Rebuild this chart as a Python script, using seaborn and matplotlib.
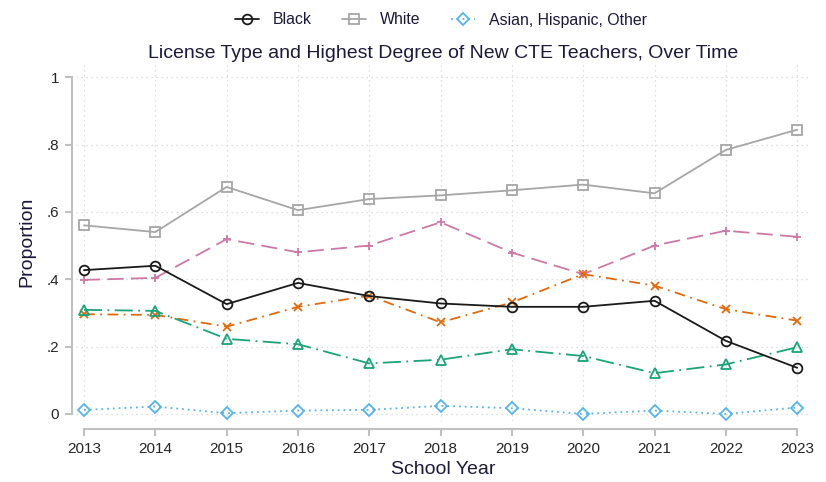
import numpy as np
import pandas as pd
import matplotlib
matplotlib.use("Agg")
import matplotlib.pyplot as plt
import seaborn as sns

# === Data ===
years = list(range(2013, 2024))

black = [0.427, 0.440, 0.326, 0.389, 0.350, 0.328, 0.318, 0.318, 0.336, 0.217, 0.137]
white = [0.560, 0.540, 0.674, 0.605, 0.638, 0.649, 0.664, 0.681, 0.655, 0.784, 0.844]
other = [0.012, 0.022, 0.002, 0.010, 0.012, 0.024, 0.017, 0.000, 0.010, 0.000, 0.019]
pink = [0.398, 0.404, 0.519, 0.480, 0.500, 0.569, 0.479, 0.415, 0.500, 0.544, 0.526]
orange = [0.296, 0.294, 0.259, 0.318, 0.351, 0.272, 0.331, 0.415, 0.381, 0.311, 0.277]
green = [0.309, 0.306, 0.223, 0.207, 0.150, 0.161, 0.192, 0.172, 0.121, 0.147, 0.198]

ytick_vals = [0, 0.2, 0.4, 0.6, 0.8, 1]
ytick_labels = ["0", ".2", ".4", ".6", ".8", "1"]

TEXT = "#1a1a3a"

sns.set_theme(style="white")
plt.rcParams["font.family"] = ["Liberation Sans", "DejaVu Sans"]

fig = plt.figure(figsize=(8.26, 4.82), dpi=100)
W, H = 826, 482
# axes box in pixels: left 76, right 810, top 62, bottom 421
ax = fig.add_axes([76 / W, 1 - 421 / H, (810 - 76) / W, (421 - 62) / H])

series = [
    # values, color, marker, linestyle, label
    (pink, "#CC79A7", "+", (0, (9, 4)), None),
    (orange, "#E06A10", "x", (0, (6, 3, 1, 3)), None),
    (green, "#1BA37A", "^", (0, (10, 3, 1, 3)), None),
    (other, "#56B4E9", "D", (0, (1, 2.2)), "Asian, Hispanic, Other"),
    (white, "#A6A6A6", "s", "-", "White"),
    (black, "#1a1a1a", "o", "-", "Black"),
]

for vals, col, mk, ls, lab in series:
    df = pd.DataFrame({"year": years, "value": vals})
    ms = 6 if mk == "D" else 7
    if mk in ("+", "x"):
        ms = 6
    sns.lineplot(data=df, x="year", y="value", ax=ax, color=col, marker=mk,
                 linestyle=ls, linewidth=1.3, markersize=ms,
                 markerfacecolor="none", markeredgecolor=col,
                 markeredgewidth=1.3, label=lab, legend=False)

ax.set_xlim(2012.888, 2023.18)
ax.set_ylim(-0.021, 1.045)

ax.set_xticks(years)
ax.set_xticklabels([str(y) for y in years], fontsize=11, color=TEXT)
ax.set_yticks(ytick_vals)
ax.set_yticklabels(ytick_labels, fontsize=11, color=TEXT)

ax.grid(True, linestyle=(0, (1, 3)), color="#d4d4d4", linewidth=0.9)
ax.set_axisbelow(True)

for s in ["top", "right"]:
    ax.spines[s].set_visible(False)
ax.spines["left"].set_position(("outward", 3))
ax.spines["bottom"].set_position(("outward", 6))
ax.spines["left"].set_bounds(0, 1)
ax.spines["bottom"].set_bounds(2013, 2023)
for s in ["left", "bottom"]:
    ax.spines[s].set_color("#c0c0c0")
    ax.spines[s].set_linewidth(1.5)
ax.tick_params(axis="both", which="major", direction="out", length=5,
               width=1.5, color="#c0c0c0", pad=4, left=True, bottom=True)

ax.set_xlabel("School Year", fontsize=14, color=TEXT, labelpad=4)
ax.set_ylabel("Proportion", fontsize=14, color=TEXT, labelpad=8)
ax.set_title("License Type and Highest Degree of New CTE Teachers, Over Time",
             fontsize=14, color=TEXT, pad=3)

handles, labels = ax.get_legend_handles_labels()
order = ["Black", "White", "Asian, Hispanic, Other"]
hmap = dict(zip(labels, handles))
fig.legend([hmap[k] for k in order], order, loc="center", ncol=3,
           bbox_to_anchor=(441 / W, 1 - 20 / H), frameon=False, fontsize=11.4,
           handlelength=1.5, columnspacing=1.9, handletextpad=0.9,
           labelcolor=TEXT)

fig.savefig("out.png", dpi=100)
